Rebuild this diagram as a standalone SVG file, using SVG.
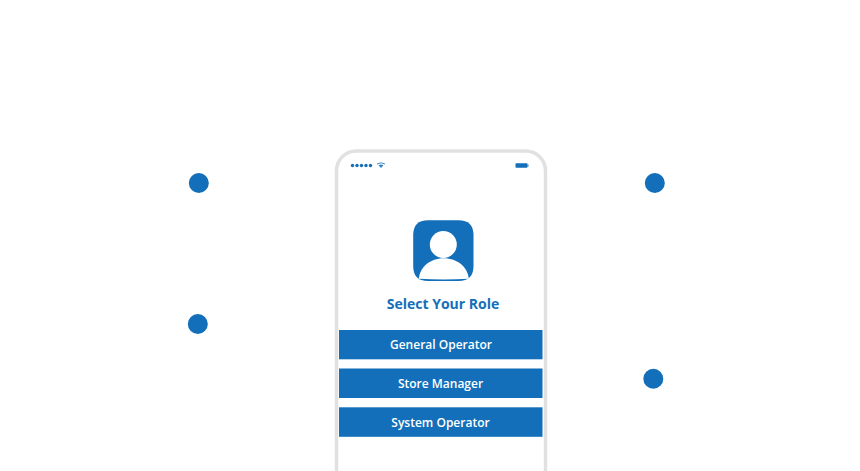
<svg xmlns="http://www.w3.org/2000/svg" width="860" height="471" viewBox="0 0 860 471">
<style>
.b{fill:#136fb9}
.t{font-family:"Open Sans","Noto Sans",sans-serif;font-size:12px;font-weight:600;fill:#fff;text-anchor:middle}
.d{fill:#136fb9}
</style>
<rect width="860" height="471" fill="#fff"/>
<g id="dot-1"><circle class="d" cx="198.800" cy="183" r="10"/></g>
<g id="dot-2"><circle class="d" cx="197.800" cy="324" r="10"/></g>
<g id="dot-3"><circle class="d" cx="654.800" cy="183" r="10"/></g>
<g id="dot-4"><circle class="d" cx="653.300" cy="378.800" r="10"/></g>
<g id="phone">
<path d="M336.500 471V171A20 20 0 0 1 356.500 151H525.500A20 20 0 0 1 545.500 171V471" fill="#fff" stroke="#e1e1e1" stroke-width="3.500"/>
<g class="b"><circle cx="352.500" cy="165.500" r="1.700"/><circle cx="357" cy="165.500" r="1.700"/><circle cx="361.500" cy="165.500" r="1.700"/><circle cx="366" cy="165.500" r="1.700"/><circle cx="370.500" cy="165.500" r="1.700"/></g>
<path d="M377 164Q381 161.500 385 164" fill="none" stroke="#136fb9" stroke-width="1" opacity=".8"/>
<path d="M378.500 165.200Q381 163.800 383.500 165.200L381 168Z" class="b" opacity=".85"/>
<rect x="515.500" y="163.300" width="12" height="4.400" rx=".8" class="b"/>
<rect x="527.500" y="164.500" width="1" height="2" class="b"/>
</g>
<g id="avatar">
<path d="M428 220.300H458.500C468.500 220.300 473.500 225.300 473.500 235.300V266C473.500 276 468.500 281 458.500 281H428C418 281 413.200 276 413.200 266V235.300C413.200 225.300 418 220.300 428 220.300Z" class="b"/>
<circle cx="443.300" cy="244.500" r="13.500" fill="#fff"/>
<path d="M418.800 278.800C420 267 430 258.300 443.800 258.300C457.500 258.300 467.500 267 468.800 278.800Q444 280.300 418.800 278.800Z" fill="#fff"/>
</g>
<text x="443" y="309" font-family="'Open Sans','Noto Sans',sans-serif" font-size="14" font-weight="700" fill="#136fb9" text-anchor="middle">Select Your Role</text>
<g id="btn-general"><rect class="b" x="339" y="330" width="203.500" height="29.300"/><text class="t" x="441" y="349.300">General Operator</text></g>
<g id="btn-store"><rect class="b" x="339" y="368.500" width="203.500" height="29.500"/><text class="t" x="440.500" y="388.300">Store Manager</text></g>
<g id="btn-system"><rect class="b" x="339" y="407.300" width="203.500" height="29.500"/><text class="t" x="440.500" y="427.300">System Operator</text></g>
<g id="connectors"/>
</svg>
